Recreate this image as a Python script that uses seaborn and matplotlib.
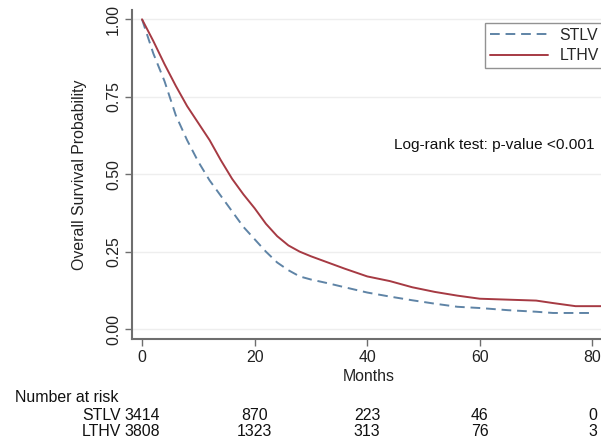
import numpy as np
import pandas as pd
import matplotlib
matplotlib.use("Agg")
import matplotlib.pyplot as plt
import matplotlib.transforms as mtransforms
import seaborn as sns

# survival estimates
months_lthv = [0, 2, 4, 6, 8, 10, 12, 14, 16, 18, 20, 22, 24, 26, 28, 30, 33, 36, 40, 44, 48, 52, 56, 60, 65, 70, 73, 77, 84]
surv_lthv = [1.0, 0.93, 0.855, 0.785, 0.72, 0.665, 0.61, 0.545, 0.485, 0.435, 0.39, 0.34, 0.30, 0.27, 0.25, 0.235, 0.215, 0.195, 0.17, 0.155, 0.135, 0.12, 0.108, 0.098, 0.095, 0.092, 0.084, 0.074, 0.074]
months_stlv = [0, 2, 4, 6, 8, 10, 12, 14, 16, 18, 20, 22, 24, 26, 28, 30, 33, 36, 40, 44, 48, 52, 56, 60, 65, 70, 73, 79.6]
surv_stlv = [1.0, 0.89, 0.80, 0.69, 0.61, 0.54, 0.48, 0.43, 0.38, 0.33, 0.29, 0.25, 0.215, 0.19, 0.17, 0.16, 0.148, 0.135, 0.118, 0.105, 0.093, 0.082, 0.072, 0.068, 0.061, 0.056, 0.052, 0.052]

risk_times = [0, 20, 40, 60, 80]
risk_stlv = [3414, 870, 223, 46, 0]
risk_lthv = [3808, 1323, 313, 76, 3]
groups = ["STLV", "LTHV"]

df = pd.concat([
    pd.DataFrame({"Months": months_stlv, "surv": surv_stlv, "group": "STLV"}),
    pd.DataFrame({"Months": months_lthv, "surv": surv_lthv, "group": "LTHV"}),
], ignore_index=True)

sns.set_style("white")
plt.rcParams["font.family"] = ["Liberation Sans", "DejaVu Sans"]
fs = 11.4

fig = plt.figure(figsize=(6.01, 4.41), dpi=100)
ax = fig.add_axes([132 / 601, 102 / 441, (615 - 132) / 601, 329 / 441])

pal = {"STLV": "#5f84a6", "LTHV": "#a63a43"}
sns.lineplot(data=df, x="Months", y="surv", hue="group", style="group",
             hue_order=groups, style_order=groups, palette=pal,
             dashes={"STLV": (5, 3), "LTHV": ""}, linewidth=1.4,
             estimator=None, sort=False, ax=ax)

ax.set_xlim(-1.78, 84)
ax.set_ylim(-0.032, 1.03)
ax.set_xticks([0, 20, 40, 60, 80])
ax.set_yticks([0, 0.25, 0.5, 0.75, 1.0])
ax.set_yticklabels(["0.00", "0.25", "0.50", "0.75", "1.00"], rotation=90, va="center")
ax.yaxis.grid(True, color="#eeeeee", linewidth=1)
for s in ["top", "right"]:
    ax.spines[s].set_visible(False)
for s in ["left", "bottom"]:
    ax.spines[s].set_color("#6e6e6e")
    ax.spines[s].set_linewidth(1.5)
ax.tick_params(axis="both", length=5, width=1, color="#6e6e6e", labelsize=fs,
               labelcolor="#222222", direction="out", bottom=True, left=True, pad=3)
ax.set_ylabel("Overall Survival Probability", fontsize=fs, color="#222222")
ax.set_xlabel("Months", fontsize=fs, color="#222222")
ax.yaxis.set_label_coords(-0.093, 0.5)
ax.xaxis.set_label_coords(0.49, -0.09)

ax.text(44.7, 0.594, "Log-rank test: p-value <0.001", fontsize=11.1, color="#111111",
        va="center", ha="left")

leg = ax.legend(title=None, loc="upper left", bbox_to_anchor=(477 / 601, 1 - 15 / 441),
                bbox_transform=fig.transFigure, fontsize=fs, handlelength=3.7,
                frameon=True, fancybox=False, edgecolor="#777777", borderpad=0.3,
                labelspacing=0.35, handletextpad=0.7)
leg.get_frame().set_linewidth(1.0)

# number at risk table
trans = mtransforms.blended_transform_factory(ax.transData, fig.transFigure)
fig.text(15 / 601, 1 - 397 / 441, "Number at risk", fontsize=fs, color="#111111", va="center")
for i, (name, vals) in enumerate([("STLV", risk_stlv), ("LTHV", risk_lthv)]):
    y = 1 - (416 + 16 * i) / 441
    fig.text(121 / 601, y, name, fontsize=fs, color="#111111", va="center", ha="right")
    for t, v in zip(risk_times, vals):
        ax.text(t, y, str(v), transform=trans, fontsize=fs, color="#111111",
                va="center", ha="center", clip_on=False)

fig.savefig("out.png", dpi=100)
